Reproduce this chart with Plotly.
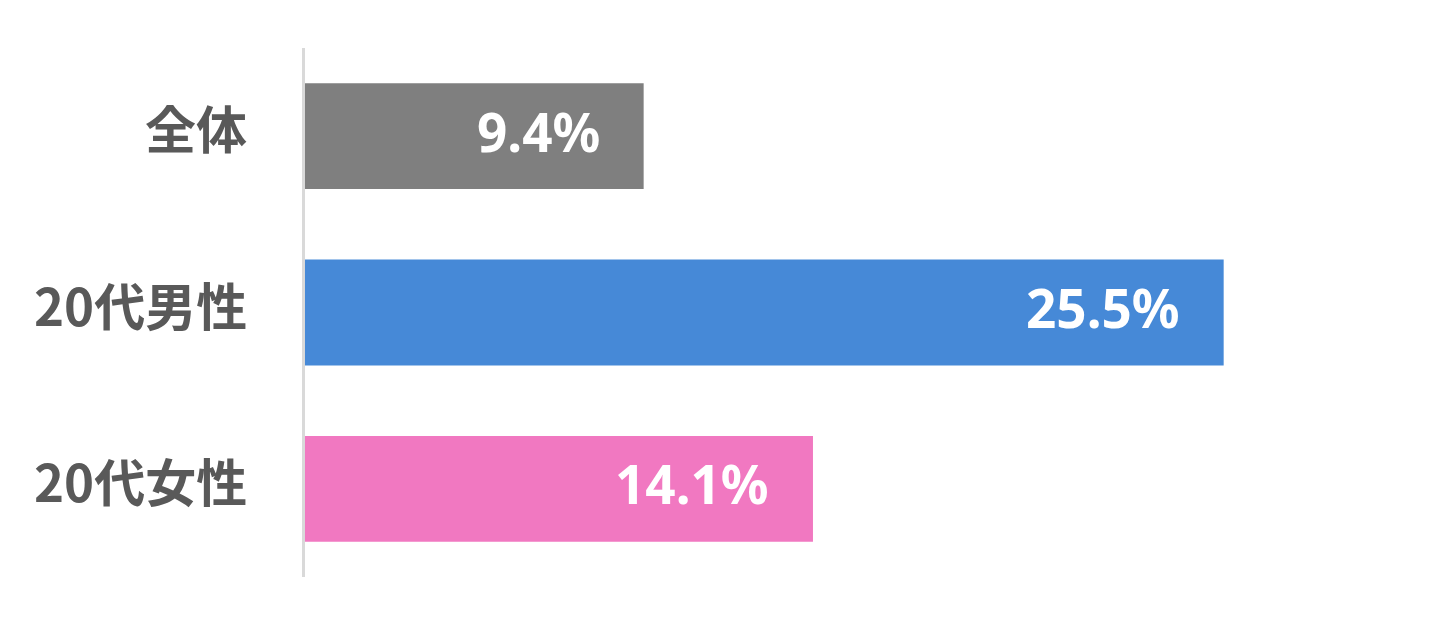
import plotly.graph_objects as go

categories = ["全体", "20代男性", "20代女性"]
values = [9.4, 25.5, 14.1]
colors = ["#7f7f7f", "#4689d7", "#f178c1"]
value_labels = [f"{v:.1f}%" for v in values]

fig = go.Figure()
fig.add_trace(go.Bar(
    y=categories, x=values, orientation="h",
    marker=dict(color=colors, line=dict(width=0)),
    hoverinfo="skip",
))

for c, v, t in zip(categories, values, value_labels):
    fig.add_annotation(
        x=v, y=c, text=f"<b>{t}</b>", showarrow=False,
        xanchor="right", yanchor="middle", xshift=-42, yshift=5,
        font=dict(family="Noto Sans, Open Sans, sans-serif", size=53, color="#ffffff"),
    )
    fig.add_annotation(
        x=0, y=c, text=c, showarrow=False,
        xanchor="right", yanchor="middle", xshift=-56, yshift=9,
        font=dict(family="Noto Sans CJK JP", size=51, color="#595959", weight="bold"),
    )

fig.update_layout(
    width=1436, height=627,
    margin=dict(l=297, r=42, t=40, b=58),
    paper_bgcolor="#ffffff", plot_bgcolor="#ffffff",
    bargap=0.4,
    showlegend=False,
    xaxis=dict(range=[0, 30.45], visible=False, fixedrange=True),
    yaxis=dict(
        autorange="reversed",
        showline=True, linecolor="#d9d9d9", linewidth=3,
        showgrid=False, zeroline=False,
        ticks="", showticklabels=False,
        fixedrange=True,
    ),
)

fig.write_html("out.html")
